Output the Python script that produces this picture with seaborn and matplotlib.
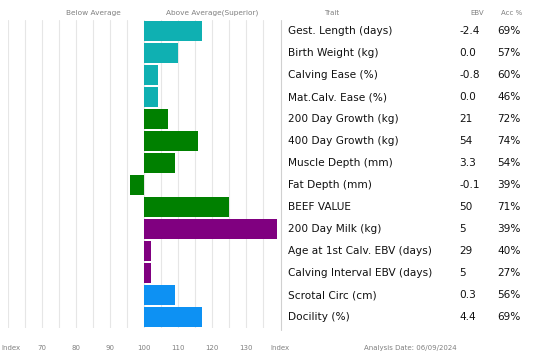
import matplotlib
matplotlib.use("Agg")
import matplotlib.pyplot as plt
import seaborn as sns
import pandas as pd
from matplotlib.lines import Line2D
from matplotlib.transforms import blended_transform_factory

traits = ["Gest. Length (days)", "Birth Weight (kg)", "Calving Ease (%)", "Mat.Calv. Ease (%)",
          "200 Day Growth (kg)", "400 Day Growth (kg)", "Muscle Depth (mm)", "Fat Depth (mm)",
          "BEEF VALUE", "200 Day Milk (kg)", "Age at 1st Calv. EBV (days)",
          "Calving Interval EBV (days)", "Scrotal Circ (cm)", "Docility (%)"]
ebv = ["-2.4", "0.0", "-0.8", "0.0", "21", "54", "3.3", "-0.1", "50", "5", "29", "5", "0.3", "4.4"]
acc = ["69%", "57%", "60%", "46%", "72%", "74%", "54%", "39%", "71%", "39%", "40%", "27%", "56%", "69%"]
index_values = [117, 110, 104, 104, 107, 116, 109, 96, 125, 139, 102, 102, 109, 117]
groups = ["calving"] * 4 + ["growth"] * 5 + ["maternal"] * 3 + ["other"] * 2
palette = {"calving": "#0FB0B2", "growth": "#008000", "maternal": "#800080", "other": "#0D91F3"}
tick_values = [70, 80, 90, 100, 110, 120, 130, 140]
tick_labels = ["70", "80", "90", "100", "110", "120", "130", "Index"]
base = 100

sns.set_theme(style="white")
plt.rcParams["font.family"] = ["DejaVu Sans"]

W, H = 550, 362
fig = plt.figure(figsize=(W / 100, H / 100), dpi=100)
ax = fig.add_axes([8 / W, 1 - 328 / H, 272 / W, 308 / H])

df = pd.DataFrame({"trait": traits, "dev": [v - base for v in index_values], "group": groups})
sns.barplot(data=df, y="trait", x="dev", hue="group", palette=palette, dodge=False,
            width=0.9, legend=False, ax=ax, saturation=1, linewidth=0, orient="h")

for g in range(60, 140, 5):
    ax.axvline(g - base, color="#e6e6e6", lw=0.8, zorder=0)

ax.set_xlim(60 - base, 140 - base)
ax.set_ylim(len(traits) - 0.5, -0.5)
ax.set_xticks([t - base for t in tick_values])
ax.set_xticklabels(tick_labels, fontsize=5, color="#808080")
ax.tick_params(axis="x", length=0, pad=12)
ax.set_yticks([])
ax.set_xlabel("")
ax.set_ylabel("")
for s in ax.spines.values():
    s.set_visible(False)

# table border
fig.add_artist(Line2D([281 / W, 281 / W], [1 - 20 / H, 1 - 330 / H], color="#d0d0d0", lw=0.8))

tr = blended_transform_factory(fig.transFigure, ax.transData)
for i, (t, e, a) in enumerate(zip(traits, ebv, acc)):
    ax.text(288 / W, i, t, transform=tr, fontsize=7.6, color="#111111", va="center", ha="left")
    ax.text(459 / W, i, e, transform=tr, fontsize=7.6, color="#111111", va="center", ha="left")
    ax.text(497 / W, i, a, transform=tr, fontsize=7.6, color="#111111", va="center", ha="left")

hy = 1 - 13 / H
fig.text(93 / W, hy, "Below Average", fontsize=5.3, color="#808080", ha="center", va="center")
fig.text(212 / W, hy, "Above Average(Superior)", fontsize=5.3, color="#808080", ha="center", va="center")
fig.text(332 / W, hy, "Trait", fontsize=5, color="#808080", ha="center", va="center")
fig.text(477 / W, hy, "EBV", fontsize=5, color="#808080", ha="center", va="center")
fig.text(512 / W, hy, "Acc %", fontsize=5, color="#808080", ha="center", va="center")
fig.text(1 / W, 1 - 348 / H, "Index", fontsize=5, color="#808080", ha="left", va="center")
fig.text(410 / W, 1 - 348 / H, "Analysis Date: 06/09/2024", fontsize=5, color="#808080",
         ha="center", va="center")

fig.savefig("out.png", dpi=100, facecolor="white")
